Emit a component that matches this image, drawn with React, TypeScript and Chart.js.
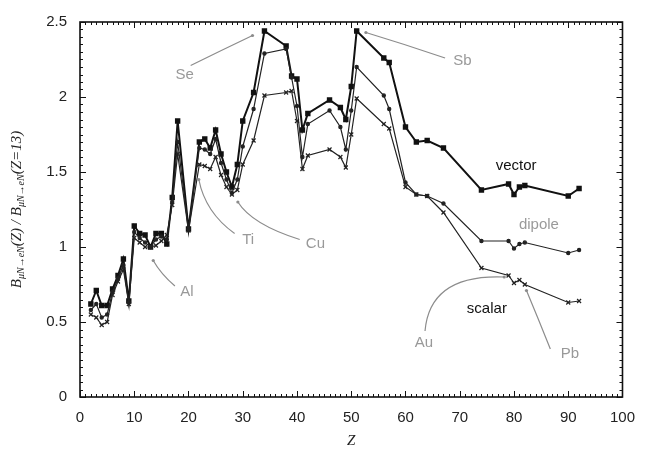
import React, { useEffect, useRef } from "react";
import { Chart, registerables } from "chart.js";
Chart.register(...registerables);

// Atomic number Z of each nucleus
const Z = [2, 3, 4, 5, 6, 7, 8, 9, 10, 11, 12, 13, 14, 15, 16, 17, 18, 20, 22, 23, 24, 25, 26, 27, 28, 29, 30, 32, 34, 38, 39, 40, 41, 42, 46, 48, 49, 50, 51, 56, 57, 60, 62, 64, 67, 74, 79, 80, 81, 82, 90, 92];

const vectorVals = [0.62, 0.71, 0.61, 0.61, 0.72, 0.81, 0.92, 0.64, 1.14, 1.09, 1.08, 1.0, 1.09, 1.09, 1.02, 1.33, 1.84, 1.12, 1.7, 1.72, 1.66, 1.78, 1.62, 1.5, 1.4, 1.55, 1.84, 2.03, 2.44, 2.34, 2.14, 2.12, 1.78, 1.89, 1.98, 1.93, 1.85, 2.07, 2.44, 2.26, 2.23, 1.8, 1.7, 1.71, 1.66, 1.38, 1.42, 1.35, 1.4, 1.41, 1.34, 1.39];

const dipoleVals = [0.58, 0.62, 0.53, 0.55, 0.7, 0.79, 0.88, 0.63, 1.1, 1.06, 1.03, 1.0, 1.05, 1.07, 1.05, 1.3, 1.7, 1.12, 1.66, 1.65, 1.62, 1.72, 1.56, 1.45, 1.36, 1.45, 1.67, 1.92, 2.29, 2.32, 2.13, 1.94, 1.6, 1.82, 1.91, 1.8, 1.65, 1.91, 2.2, 2.01, 1.92, 1.43, 1.35, 1.34, 1.29, 1.04, 1.04, 0.99, 1.02, 1.03, 0.96, 0.98];

const scalarVals = [0.55, 0.53, 0.48, 0.5, 0.68, 0.77, 0.85, 0.62, 1.06, 1.03, 1.0, 1.0, 1.01, 1.04, 1.08, 1.28, 1.62, 1.11, 1.55, 1.54, 1.52, 1.6, 1.48, 1.4, 1.35, 1.38, 1.55, 1.71, 2.01, 2.03, 2.04, 1.84, 1.52, 1.61, 1.65, 1.6, 1.53, 1.75, 1.99, 1.82, 1.79, 1.4, 1.35, 1.34, 1.23, 0.86, 0.81, 0.76, 0.78, 0.75, 0.63, 0.64];

const xTicks = [0, 10, 20, 30, 40, 50, 60, 70, 80, 90, 100];
const yTicks = [0, 0.5, 1, 1.5, 2, 2.5];

// Annotation labels (data coordinates): text position, pointer start, control, end
const elementLabels = [
  { text: "Se", at: [19.3, 2.15], from: [20.4, 2.21], ctrl: [26, 2.31], to: [31.8, 2.41] },
  { text: "Sb", at: [70.5, 2.24], from: [67.3, 2.26], ctrl: [60, 2.35], to: [52.7, 2.43] },
  { text: "Ti", at: [31.0, 1.05], from: [28.5, 1.09], ctrl: [23.1, 1.23], to: [21.9, 1.45] },
  { text: "Cu", at: [43.4, 1.02], from: [40.5, 1.05], ctrl: [31.7, 1.15], to: [29.1, 1.3] },
  { text: "Al", at: [19.7, 0.7], from: [17.5, 0.74], ctrl: [14.9, 0.82], to: [13.5, 0.91] },
  { text: "Au", at: [63.4, 0.36], from: [63.6, 0.44], ctrl: [64.5, 0.82], to: [78.2, 0.8] },
  { text: "Pb", at: [90.3, 0.29], from: [86.7, 0.32], ctrl: [84.5, 0.52], to: [82.3, 0.71] },
];
const seriesLabels = [
  { text: "vector", at: [80.4, 1.54], color: "#111" },
  { text: "dipole", at: [84.6, 1.15], color: "#9a9a9a" },
  { text: "scalar", at: [75.0, 0.59], color: "#111" },
];

const LABEL_FONT = '15px "Liberation Sans", Arial, sans-serif';

const decorPlugin = {
  id: "decor",
  afterDraw(chart: any) {
    const { ctx, chartArea: a, scales } = chart;
    const xs = scales.x;
    const ys = scales.y;
    const px = (v: number) => xs.getPixelForValue(v);
    const py = (v: number) => ys.getPixelForValue(v);
    ctx.save();
    // frame
    ctx.strokeStyle = "#111";
    ctx.lineWidth = 1.6;
    ctx.strokeRect(a.left, a.top, a.right - a.left, a.bottom - a.top);
    // ticks
    ctx.lineWidth = 1;
    ctx.beginPath();
    for (let z = 0; z <= 100; z += 1) {
      const x = Math.round(px(z)) + 0.5;
      const len = z % 10 === 0 ? 6 : 3;
      ctx.moveTo(x, a.bottom);
      ctx.lineTo(x, a.bottom - len);
      ctx.moveTo(x, a.top);
      ctx.lineTo(x, a.top + len);
    }
    for (let i = 0; i <= 50; i++) {
      const v = i * 0.05;
      const y = Math.round(py(v)) + 0.5;
      const len = i % 10 === 0 ? 6 : 3;
      ctx.moveTo(a.left, y);
      ctx.lineTo(a.left + len, y);
      ctx.moveTo(a.right, y);
      ctx.lineTo(a.right - len, y);
    }
    ctx.stroke();

    // element pointers
    ctx.strokeStyle = "#8c8c8c";
    ctx.fillStyle = "#8c8c8c";
    ctx.lineWidth = 1.2;
    elementLabels.forEach((l) => {
      ctx.beginPath();
      ctx.moveTo(px(l.from[0]), py(l.from[1]));
      ctx.quadraticCurveTo(px(l.ctrl[0]), py(l.ctrl[1]), px(l.to[0]), py(l.to[1]));
      ctx.stroke();
      ctx.beginPath();
      ctx.arc(px(l.to[0]), py(l.to[1]), 1.6, 0, Math.PI * 2);
      ctx.fill();
    });
    ctx.font = LABEL_FONT;
    ctx.textAlign = "center";
    ctx.textBaseline = "middle";
    ctx.fillStyle = "#999";
    elementLabels.forEach((l) => {
      ctx.fillText(l.text, px(l.at[0]), py(l.at[1]));
    });
    seriesLabels.forEach((l) => {
      ctx.fillStyle = l.color;
      ctx.fillText(l.text, px(l.at[0]), py(l.at[1]));
    });

    // x title
    ctx.fillStyle = "#222";
    ctx.font = 'italic 15px "Liberation Serif", "Times New Roman", serif';
    ctx.fillText("Z", (a.left + a.right) / 2, 441);

    // y title with subscripts
    const segs = [
      { t: "B", sub: false },
      { t: "μN→eN", sub: true },
      { t: "(Z) / B", sub: false },
      { t: "μN→eN", sub: true },
      { t: "(Z=13)", sub: false },
    ];
    const mainFont = 'italic 15px "Liberation Serif", "Times New Roman", serif';
    const subFont = 'italic 10px "Liberation Serif", "Times New Roman", serif';
    let total = 0;
    const widths = segs.map((s) => {
      ctx.font = s.sub ? subFont : mainFont;
      const w = ctx.measureText(s.t).width;
      total += w;
      return w;
    });
    ctx.translate(17, (a.top + a.bottom) / 2);
    ctx.rotate(-Math.PI / 2);
    ctx.textAlign = "left";
    ctx.textBaseline = "middle";
    let cx = -total / 2;
    segs.forEach((s, i) => {
      ctx.font = s.sub ? subFont : mainFont;
      ctx.fillText(s.t, cx, s.sub ? 4 : 0);
      cx += widths[i];
    });
    ctx.restore();
  },
};

export default function App() {
  const ref = useRef<HTMLCanvasElement | null>(null);
  useEffect(() => {
    if (!ref.current) return;
    const mk = (vals: number[]) => Z.map((z, i) => ({ x: z, y: vals[i] }));
    const chart = new Chart(ref.current, {
      type: "line",
      data: {
        datasets: [
          {
            label: "scalar",
            data: mk(scalarVals),
            borderColor: "#222",
            backgroundColor: "#222",
            borderWidth: 1.2,
            pointStyle: "crossRot",
            pointRadius: 2.8,
            pointBorderWidth: 1.2,
          },
          {
            label: "dipole",
            data: mk(dipoleVals),
            borderColor: "#222",
            backgroundColor: "#222",
            borderWidth: 1.2,
            pointStyle: "circle",
            pointRadius: 1.6,
          },
          {
            label: "vector",
            data: mk(vectorVals),
            borderColor: "#111",
            backgroundColor: "#111",
            borderWidth: 2,
            pointStyle: "rect",
            pointRadius: 2.4,
          },
        ],
      },
      options: {
        responsive: false,
        animation: false,
        layout: { padding: { left: 0, top: 17, right: 17, bottom: 0 } },
        plugins: { legend: { display: false }, tooltip: { enabled: false } },
        scales: {
          x: {
            type: "linear",
            min: 0,
            max: 100,
            afterFit: (s: any) => {
              s.height = 52;
            },
            afterBuildTicks: (s: any) => {
              s.ticks = xTicks.map((v) => ({ value: v }));
            },
            grid: { display: false, drawTicks: false },
            border: { display: false },
            ticks: {
              padding: 12,
              color: "#222",
              font: { family: '"Liberation Sans", Arial, sans-serif', size: 15 },
              maxRotation: 0,
            },
          },
          y: {
            type: "linear",
            min: 0,
            max: 2.5,
            afterFit: (s: any) => {
              s.width = 80;
            },
            afterBuildTicks: (s: any) => {
              s.ticks = yTicks.map((v) => ({ value: v }));
            },
            grid: { display: false, drawTicks: false },
            border: { display: false },
            ticks: {
              padding: 13,
              color: "#222",
              font: { family: '"Liberation Sans", Arial, sans-serif', size: 15 },
              callback: (v: any) => String(v),
            },
          },
        },
      },
      plugins: [decorPlugin],
    });
    return () => chart.destroy();
  }, []);
  return (
    <div style={{ position: "absolute", left: 0, top: 0, width: 647, height: 449, background: "#fff" }}>
      <canvas ref={ref} width={647} height={449} />
    </div>
  );
}
